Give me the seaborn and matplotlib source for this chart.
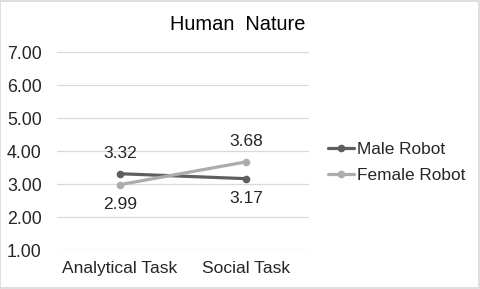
import pandas as pd
import seaborn as sns
import matplotlib.pyplot as plt
from matplotlib.patches import Rectangle

# values
tasks = ["Analytical Task", "Social Task"]
male_robot = [3.32, 3.17]
female_robot = [2.99, 3.68]
series_names = ["Male Robot", "Female Robot"]
y_ticks = [1, 2, 3, 4, 5, 6, 7]

df = pd.DataFrame({
    "task": tasks * 2,
    "score": male_robot + female_robot,
    "robot": [series_names[0]] * 2 + [series_names[1]] * 2,
})

sns.set_style("white")
plt.rcParams["font.family"] = ["Liberation Sans", "DejaVu Sans"]

fig = plt.figure(figsize=(4.8, 2.89), dpi=100)
ax = fig.add_axes([0.119, 0.134, 0.525, 0.685])

colors = {"Male Robot": "#5f5f5f", "Female Robot": "#acacac"}
sns.lineplot(data=df, x="task", y="score", hue="robot", palette=colors,
             marker="o", markersize=5.5, markeredgewidth=0, linewidth=2.3,
             ax=ax, legend=True)

ax.set_ylim(1, 7)
ax.set_xlim(-0.5, 1.5)
ax.set_yticks(y_ticks)
ax.set_yticklabels([f"{v:.2f}" for v in y_ticks])
ax.yaxis.grid(True, color="#d9d9d9", linewidth=0.9)
ax.set_axisbelow(True)
for s in ax.spines.values():
    s.set_visible(False)
ax.tick_params(axis="y", length=0, pad=11, labelsize=12.8, labelcolor="#262626")
ax.tick_params(axis="x", length=0, pad=8, labelsize=12.5, labelcolor="#262626")
ax.set_xlabel("")
ax.set_ylabel("")

# data labels: male above/below, female below/above (as in the original)
offsets = {"Male Robot": [14.5, -14.5], "Female Robot": [-14.5, 14.5]}
for name, vals in zip(series_names, [male_robot, female_robot]):
    for i, v in enumerate(vals):
        ax.annotate(f"{v:.2f}", (i, v), xytext=(0, offsets[name][i]),
                    textcoords="offset points", ha="center", va="center",
                    fontsize=12.5, color="#262626")

handles, labels = ax.get_legend_handles_labels()
ax.legend(handles, labels, loc="center left", bbox_to_anchor=(0.683, 0.437),
          bbox_transform=fig.transFigure, frameon=False, fontsize=12.4,
          handlelength=1.5, handletextpad=0.2, borderpad=0, borderaxespad=0,
          labelspacing=0.65, labelcolor="#262626")

fig.text(0.496, 1 - 25 / 289, "Human  Nature", ha="center", va="center",
         fontsize=14.4, color="#000000")

fig.patches.append(Rectangle((0.001, 0.002), 0.997, 0.995, transform=fig.transFigure,
                             fill=False, edgecolor="#d9d9d9", linewidth=1.2))

fig.savefig("out.png", dpi=100, facecolor="white")
